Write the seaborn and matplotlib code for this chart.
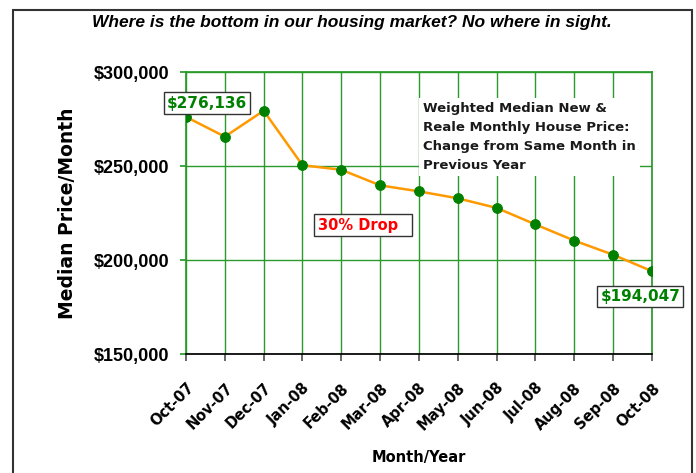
import numpy as np
import pandas as pd
import matplotlib.pyplot as plt
import seaborn as sns
from matplotlib.patches import Rectangle
from matplotlib.ticker import FuncFormatter

# data
months = ['Oct-07', 'Nov-07', 'Dec-07', 'Jan-08', 'Feb-08', 'Mar-08', 'Apr-08',
          'May-08', 'Jun-08', 'Jul-08', 'Aug-08', 'Sep-08', 'Oct-08']
price = [276136, 265600, 279400, 250400, 248000, 239700, 236500,
         232800, 227700, 218900, 210300, 202800, 194047]

df = pd.DataFrame({'month': months, 'price': price})

sns.set_theme(style='white')
plt.rcParams['font.family'] = ['DejaVu Sans']
plt.rcParams['text.color'] = 'black'
plt.rcParams['axes.labelcolor'] = 'black'
plt.rcParams['xtick.color'] = 'black'
plt.rcParams['ytick.color'] = 'black'

fig = plt.figure(figsize=(6.96, 4.73), dpi=100)
ax = fig.add_axes([186/696, 1-354/473, (652-186)/696, (354-72)/473])

grid_c = '#2a9a2a'
sns.lineplot(data=df, x='month', y='price', sort=False, ax=ax, color='#ff9900',
             lw=1.8, marker='o', markersize=7, markerfacecolor='#008000',
             markeredgecolor='#008000', zorder=3)

ax.set_xlim(0, len(months) - 1)
ax.set_ylim(150000, 300000)
ax.set_yticks([150000, 200000, 250000, 300000])
ax.yaxis.set_major_formatter(FuncFormatter(lambda v, p: f'${v:,.0f}'))
ax.set_xticks(range(len(months)))
ax.set_xticklabels(months)

ax.grid(True, color=grid_c, lw=1)
for s in ['left', 'right', 'top']:
    ax.spines[s].set_color(grid_c)
ax.spines['bottom'].set_color('black')
ax.tick_params(axis='y', length=4, color=grid_c, labelcolor='black', pad=8, left=True)
ax.tick_params(axis='x', length=5, color='#555555', labelcolor='black', bottom=True,
               direction='out', pad=14)

for t in ax.get_yticklabels():
    t.set_fontfamily('Liberation Sans')
    t.set_fontweight('bold')
    t.set_fontsize(13)
for t in ax.get_xticklabels():
    t.set_rotation(45)
    t.set_ha('right')
    t.set_va('top')
    t.set_rotation_mode('anchor')
    t.set_fontweight('bold')
    t.set_fontsize(10.5)

ax.set_xlabel('Month/Year', fontsize=10.5, fontweight='bold', labelpad=12)
ax.set_ylabel('Median Price/Month', fontsize=13.5, fontweight='bold', labelpad=12)

# annotations
ax.text(0.54, 283500, '$276,136', color='#008000', fontsize=11, fontweight='bold',
        ha='center', va='center', zorder=5,
        bbox=dict(boxstyle='square,pad=0.2', fc='white', ec='#333333', lw=1))
ax.text(11.7, 180600, '$194,047', color='#008000', fontsize=11, fontweight='bold',
        ha='center', va='center', zorder=5, clip_on=False,
        bbox=dict(boxstyle='square,pad=0.2', fc='white', ec='#333333', lw=1))
ax.text(3.4, 218600, '30% Drop  ', color='#ff0000', fontsize=10.5, fontweight='bold',
        ha='left', va='center', zorder=5,
        bbox=dict(boxstyle='square,pad=0.25', fc='white', ec='#333333', lw=1))
ax.text(6.1, 284000, 'Weighted Median New &\nReale Monthly House Price:\n'
        'Change from Same Month in\nPrevious Year',
        color='#1a1a1a', fontsize=9.5, fontweight='bold', ha='left', va='top',
        linespacing=1.6, zorder=4,
        bbox=dict(boxstyle='square,pad=0.3', fc='white', ec='none'))

fig.text(0.505, 1-22/473, 'Where is the bottom in our housing market? No where in sight.',
         ha='center', va='center', fontsize=12.5, fontweight='bold', style='italic',
         family='Liberation Sans', color='black')

fig.patches.append(Rectangle((13/696, -0.02), (692-13)/696, (473-10)/473 + 0.02,
                             transform=fig.transFigure, fill=False, ec='#333333', lw=1.5))

fig.savefig('out.png', dpi=100)
